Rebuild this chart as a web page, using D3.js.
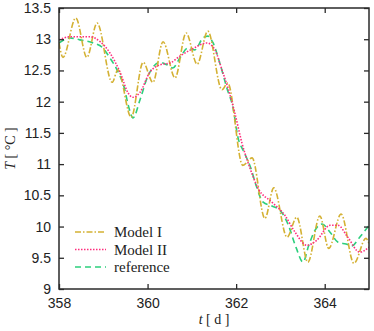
<!DOCTYPE html>
<html>
<head>
<meta charset="utf-8">
<script src="https://cdn.jsdelivr.net/npm/d3@7"></script>
<style>
body { margin: 0; background: #fff; }
</style>
</head>
<body>
<div id="chart"></div>
<script>
var xTicks = [358, 360, 362, 364]
var yTicks = [9, 9.5, 10, 10.5, 11, 11.5, 12, 12.5, 13, 13.5]

// Model I (oscillating)
var model1T = [358.00, 358.09, 358.38, 358.63, 358.86, 359.20, 359.33, 359.63, 359.90, 360.12, 360.35, 360.62, 360.87, 361.12, 361.36, 361.68, 361.81, 362.15, 362.36, 362.65, 362.85, 363.15, 363.37, 363.62, 363.89, 364.09, 364.37, 364.66, 364.93, 365.00]
var model1V = [12.94, 12.71, 13.34, 12.71, 13.26, 12.31, 12.51, 11.75, 12.63, 12.31, 12.96, 12.38, 13.10, 12.60, 13.13, 12.19, 12.30, 10.98, 11.10, 10.13, 10.62, 9.83, 10.15, 9.43, 10.17, 9.65, 10.20, 9.41, 9.81, 9.73]

// Model II (smooth)
var model2T = [358.00, 358.25, 358.70, 358.93, 359.15, 359.38, 359.56, 359.67, 359.83, 360.05, 360.28, 360.51, 360.73, 361.00, 361.34, 361.52, 361.68, 361.81, 361.97, 362.13, 362.31, 362.49, 362.81, 363.10, 363.33, 363.60, 363.82, 364.12, 364.30, 364.52, 364.79, 365.00]
var model2V = [12.99, 13.04, 13.04, 12.96, 12.78, 12.47, 12.14, 12.07, 12.15, 12.47, 12.59, 12.62, 12.73, 12.84, 12.94, 12.83, 12.51, 12.23, 11.82, 11.34, 10.94, 10.62, 10.39, 10.18, 9.91, 9.70, 9.78, 10.02, 10.02, 9.83, 9.59, 9.67]

// reference
var refT = [358.00, 358.25, 358.47, 358.77, 358.99, 359.15, 359.31, 359.47, 359.58, 359.67, 359.83, 359.99, 360.12, 360.28, 360.44, 360.57, 360.73, 360.91, 361.07, 361.25, 361.36, 361.48, 361.63, 361.79, 361.93, 362.04, 362.18, 362.33, 362.45, 362.61, 362.81, 362.99, 363.17, 363.35, 363.51, 363.64, 363.78, 363.94, 364.12, 364.30, 364.48, 364.61, 364.79, 365.00]
var refV = [12.94, 13.02, 12.99, 12.94, 12.86, 12.70, 12.51, 12.23, 11.90, 11.74, 12.03, 12.38, 12.55, 12.63, 12.59, 12.54, 12.70, 12.86, 12.83, 13.02, 13.05, 12.94, 12.62, 12.22, 11.90, 11.43, 11.19, 10.94, 10.66, 10.39, 10.33, 10.26, 10.04, 9.67, 9.43, 9.70, 9.94, 10.04, 9.91, 9.75, 9.72, 9.69, 9.83, 10.02]

var series = [
	{ name: "Model I", t: model1T, v: model1V, color: "#d4b133", dash: "6,2,1.5,2" },
	{ name: "Model II", t: model2T, v: model2V, color: "#ff2d7d", dash: "1.5,1.5" },
	{ name: "reference", t: refT, v: refV, color: "#2ccf7c", dash: "6,4" }
]

var W = 374, H = 331
var m = { left: 59, right: 5, top: 8, bottom: 42 }
var svg = d3.select("#chart").append("svg").attr("width", W).attr("height", H)
	.style("font-family", "'Liberation Sans', Arial, sans-serif")

var x = d3.scaleLinear().domain([358, 365]).range([m.left, W - m.right])
var y = d3.scaleLinear().domain([9, 13.5]).range([H - m.bottom, m.top])

svg.append("defs").append("clipPath").attr("id", "clip").append("rect")
	.attr("x", m.left).attr("y", m.top).attr("width", x.range()[1] - m.left).attr("height", y.range()[0] - m.top)
var plot = svg.append("g").attr("clip-path", "url(#clip)")

var line = d3.line().curve(d3.curveMonotoneX).x(function(d) { return x(d[0]) }).y(function(d) { return y(d[1]) })

// reference under Model I, Model II on top
var drawOrder = [2, 0, 1]
drawOrder.forEach(function(i) {
	var s = series[i]
	plot.append("path").datum(d3.zip(s.t, s.v))
		.attr("d", line).attr("fill", "none")
		.attr("stroke", s.color).attr("stroke-width", 1.6)
		.attr("stroke-dasharray", s.dash)
})

// axes: ticks inside on all sides
var axisColor = "#2a2a2a"
function styleAxis(g) {
	g.select(".domain").remove()
	g.selectAll(".tick line").attr("stroke", axisColor).attr("stroke-width", 1.3)
	g.selectAll(".tick text").attr("fill", "#222").style("font-size", "14px")
}
svg.append("g").attr("transform", "translate(0," + y.range()[0] + ")")
	.call(d3.axisBottom(x).tickValues(xTicks).tickSize(-5).tickPadding(9).tickFormat(d3.format("d")))
	.call(styleAxis)
svg.append("g").attr("transform", "translate(0," + m.top + ")")
	.call(d3.axisTop(x).tickValues(xTicks).tickSize(-5).tickFormat(""))
	.call(styleAxis)
svg.append("g").attr("transform", "translate(" + m.left + ",0)")
	.call(d3.axisLeft(y).tickValues(yTicks).tickSize(-5).tickPadding(8).tickFormat(function(d) { return String(d) }))
	.call(styleAxis)
svg.append("g").attr("transform", "translate(" + x.range()[1] + ",0)")
	.call(d3.axisRight(y).tickValues(yTicks).tickSize(-5).tickFormat(""))
	.call(styleAxis)

svg.append("rect").attr("x", m.left).attr("y", m.top)
	.attr("width", x.range()[1] - m.left).attr("height", y.range()[0] - m.top)
	.attr("fill", "none").attr("stroke", axisColor).attr("stroke-width", 1.5)

// legend
var serif = "'Liberation Serif', 'DejaVu Serif', serif"
var leg = svg.append("g").style("font-family", serif).style("font-size", "15px")
series.forEach(function(s, i) {
	var ly = 232 + i * 17.5
	leg.append("line").attr("x1", 75).attr("x2", 106).attr("y1", ly).attr("y2", ly)
		.attr("stroke", s.color).attr("stroke-width", 1.6).attr("stroke-dasharray", s.dash)
	leg.append("text").attr("x", 114).attr("y", ly + 5).attr("fill", "#222").text(s.name)
})

// axis labels
var yl = svg.append("text").attr("transform", "translate(15," + ((m.top + y.range()[0]) / 2) + ") rotate(-90)")
	.attr("text-anchor", "middle").style("font-family", serif).style("font-size", "14px").attr("fill", "#222")
yl.append("tspan").style("font-style", "italic").text("T")
yl.append("tspan").text(" [ °C ]")

var xl = svg.append("text").attr("x", (m.left + x.range()[1]) / 2).attr("y", 324)
	.attr("text-anchor", "middle").style("font-family", serif).style("font-size", "14px").attr("fill", "#222")
xl.append("tspan").style("font-style", "italic").text("t")
xl.append("tspan").text(" [ d ]")
</script>
</body>
</html>
